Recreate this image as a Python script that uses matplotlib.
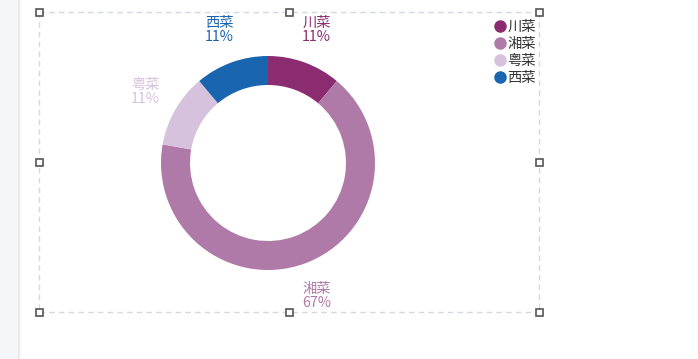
import numpy as np
from matplotlib import pyplot as plt
from matplotlib.patches import Rectangle
from matplotlib.lines import Line2D

plt.rcParams['font.family'] = ['Noto Sans CJK SC', 'DejaVu Sans']

categories = ['川菜', '湘菜', '粤菜', '西菜']
values = [1, 6, 1, 1]
colors = ['#8B2C70', '#B07AA8', '#D7C2DE', '#1A65B0']

W, H = 698, 359
fig = plt.figure(figsize=(W / 100, H / 100), dpi=100)

# background layer in pixel coordinates
bg = fig.add_axes([0, 0, 1, 1])
bg.set_xlim(0, W)
bg.set_ylim(H, 0)
bg.axis('off')
bg.add_patch(Rectangle((0, 0), 18, H, color='#F5F6FA', lw=0))
for i, a in enumerate([0.10, 0.06, 0.03]):
    bg.add_patch(Rectangle((18 + i, 0), 1, H, color='black', alpha=a, lw=0))

# selection box
box_l, box_t, box_r, box_b = 39, 12, 539, 312
dash = dict(color='#D3D7E2', lw=1, dashes=(4, 3))
bg.plot([box_l, box_r], [box_t, box_t], **dash)
bg.plot([box_l, box_r], [box_b, box_b], **dash)
bg.plot([box_l, box_l], [box_t, box_b], **dash)
bg.plot([box_r, box_r], [box_t, box_b], **dash)
mx, my = (box_l + box_r) / 2, (box_t + box_b) / 2
for hx, hy in [(box_l, box_t), (mx, box_t), (box_r, box_t), (box_l, my),
               (box_r, my), (box_l, box_b), (mx, box_b), (box_r, box_b)]:
    bg.add_patch(Rectangle((hx - 3.5, hy - 3.5), 7, 7, facecolor='white',
                           edgecolor='#555555', lw=1.2, zorder=5))

# donut
cx, cy, r_out, r_in = 268, 163, 107, 78
half = 150
ax = fig.add_axes([(cx - half) / W, (H - cy - half) / H, 2 * half / W, 2 * half / H])
wedges, _ = ax.pie(values, colors=colors, radius=r_out, startangle=90,
                   counterclock=False, wedgeprops=dict(width=r_out - r_in, lw=0))
ax.set_xlim(-half, half)
ax.set_ylim(-half, half)
ax.set_aspect('equal')
ax.axis('off')

total = sum(values)
for w, name, v, c in zip(wedges, categories, values, colors):
    ang = np.deg2rad((w.theta1 + w.theta2) / 2)
    lx, ly = 142 * np.cos(ang), 142 * np.sin(ang)
    ax.text(lx, ly, f'{name}\n{v / total:.0%}', color=c, ha='center', va='center',
            fontsize=10.3, linespacing=1.0, clip_on=False)

# legend
handles = [Line2D([], [], marker='o', ls='', markersize=9, markerfacecolor=c,
                  markeredgewidth=0) for c in colors]
fig.legend(handles, categories, loc='upper left', bbox_to_anchor=(489 / W, 1 - 13 / H),
           frameon=False, fontsize=10.3, handlelength=0.6, handletextpad=0.2,
           labelspacing=0.2, borderpad=0, labelcolor='#333333')

fig.savefig('out.png', dpi=100)
